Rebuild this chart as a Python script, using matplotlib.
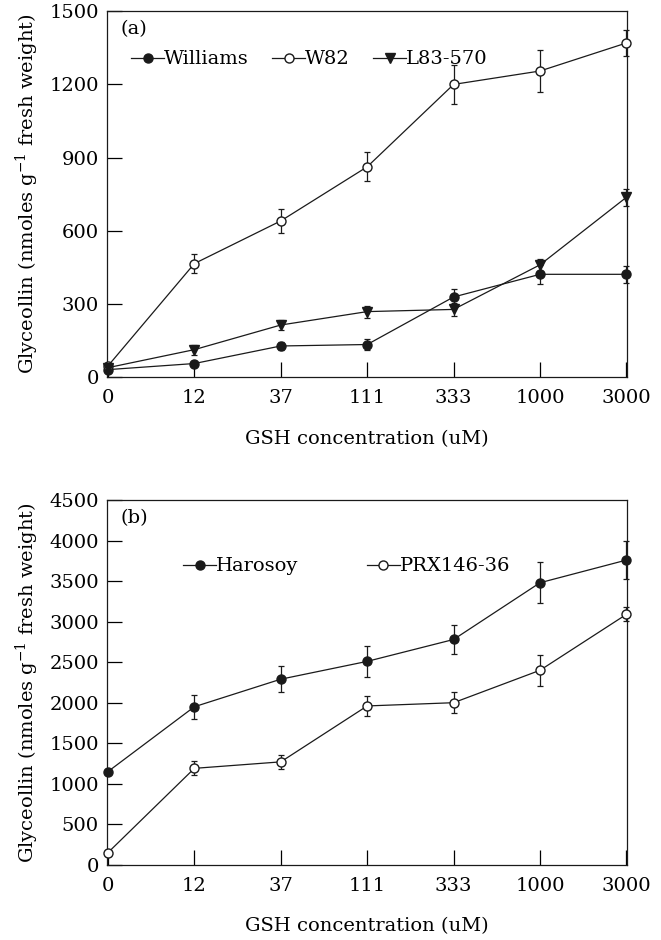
import numpy as np
import matplotlib.pyplot as plt
from matplotlib.lines import Line2D

plt.rcParams['font.family'] = 'DejaVu Serif'
plt.rcParams['mathtext.fontset'] = 'dejavuserif'
plt.rcParams['font.size'] = 13.5

gsh = ['0', '12', '37', '111', '333', '1000', '3000']

# panel (a)
williams = [30, 55, 127, 133, 328, 421, 421]
williams_err = [0, 10, 17, 22, 33, 38, 35]
w82 = [45, 465, 640, 862, 1200, 1255, 1370]
w82_err = [0, 40, 48, 60, 80, 85, 55]
l83 = [38, 112, 213, 268, 277, 460, 737]
l83_err = [0, 20, 20, 25, 25, 25, 35]

# panel (b)
harosoy = [1150, 1950, 2290, 2510, 2780, 3480, 3760]
harosoy_err = [0, 150, 160, 190, 180, 250, 235]
prx = [150, 1190, 1270, 1960, 2000, 2400, 3090]
prx_err = [0, 85, 90, 120, 130, 190, 85]

ylab = r'Glyceollin (nmoles g$^{-1}$ fresh weight)'
xlab = 'GSH concentration (uM)'

fig = plt.figure(figsize=(6.61, 9.4), dpi=100)
ax1 = fig.add_axes([0.162, 0.599, 0.787, 0.389])
ax2 = fig.add_axes([0.162, 0.080, 0.787, 0.388])

x = np.arange(len(gsh))
ink = '#1a1a1a'


def series(ax, y, err, marker, fill, label):
    mfc = ink if fill else 'white'
    y = np.array(y, float)
    err = np.array(err, float)
    ax.plot(x, y, marker=marker, color=ink, lw=0.9, ms=6.5, mfc=mfc, mec=ink,
            clip_on=False, zorder=3)
    m = err > 0
    ax.errorbar(x[m], y[m], yerr=err[m], fmt='none', ecolor=ink,
                elinewidth=0.9, capsize=2.5, capthick=0.9, clip_on=False,
                zorder=2)
    return Line2D([], [], marker=marker, color=ink, lw=0.9, ms=6.5, mfc=mfc,
                  mec=ink, label=label)


h1 = [series(ax1, williams, williams_err, 'o', True, 'Williams'),
      series(ax1, w82, w82_err, 'o', False, 'W82'),
      series(ax1, l83, l83_err, 'v', True, 'L83-570')]
h2 = [series(ax2, harosoy, harosoy_err, 'o', True, 'Harosoy'),
      series(ax2, prx, prx_err, 'o', False, 'PRX146-36')]

for ax, top, step, tag in [(ax1, 1500, 300, '(a)'), (ax2, 4500, 500, '(b)')]:
    ax.set_xlim(-0.01, 6.01)
    ax.set_ylim(0, top)
    ax.set_yticks(np.arange(0, top + 1, step))
    ax.set_xticks(x)
    ax.set_xticklabels(gsh)
    ax.tick_params(direction='in', length=11, width=0.9, top=False, right=False,
                   labelsize=14)
    ax.tick_params(axis='x', pad=9)
    ax.tick_params(axis='y', pad=6)
    for s in ax.spines.values():
        s.set_linewidth(0.9)
        s.set_color(ink)
    ax.set_ylabel(ylab, fontsize=14, labelpad=6)
    ax.set_xlabel(xlab, fontsize=14, labelpad=16)
    ax.text(0.025, 0.975, tag, transform=ax.transAxes, ha='left', va='top',
            fontsize=14)

ax1.legend(handles=h1, ncol=3, loc='upper left', bbox_to_anchor=(0.02, 0.93),
           frameon=False, handlelength=1.7, handletextpad=0.0,
           columnspacing=1.2, borderpad=0.2, fontsize=14)
ax2.legend(handles=h2, ncol=2, loc='upper left', bbox_to_anchor=(0.12, 0.88),
           frameon=False, handlelength=1.7, handletextpad=0.0,
           columnspacing=3.5, borderpad=0.2, fontsize=14)

fig.savefig('out.png', dpi=100)
